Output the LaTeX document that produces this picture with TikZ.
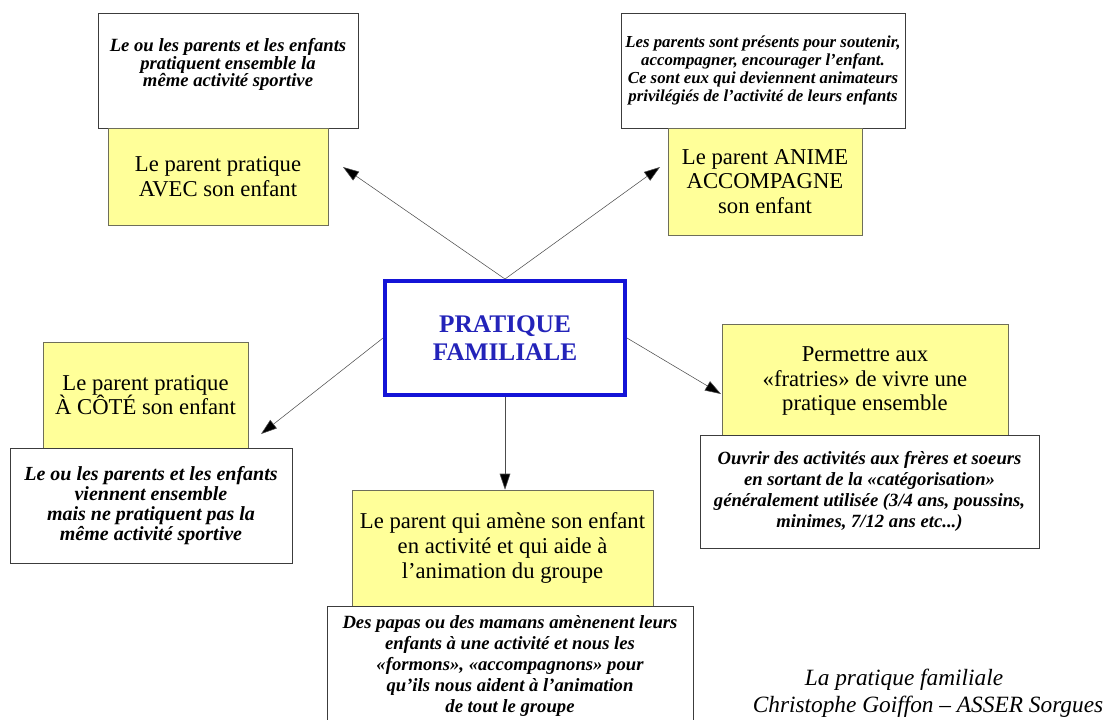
\documentclass[tikz,border=0pt]{standalone}
\usepackage{fontspec}
\setmainfont{Liberation Serif}
\usepackage{tikz}
\usetikzlibrary{arrows.meta,positioning,calc}
\definecolor{PaleYellow}{RGB}{255, 255, 153}
\definecolor{OliveEdge}{RGB}{110, 110, 90}
\definecolor{DarkEdge}{RGB}{60, 60, 60}
\definecolor{FrameBlue}{RGB}{20, 20, 215}
\definecolor{TitleBlue}{RGB}{35, 35, 185}

\begin{document}
\begin{tikzpicture}[x=0.75pt, y=-0.75pt,
  yellowbox/.style={draw=OliveEdge, fill=PaleYellow, align=center, inner sep=2pt,
    font=\fontsize{17}{18.5}\selectfont},
  notebox/.style={draw=DarkEdge, fill=white, align=center, inner sep=2pt},
  notefont/.style 2 args={font=\fontsize{#1}{#2}\selectfont\bfseries\itshape},
  link/.style={draw=black!70, -{Triangle[length=12pt, width=8pt, fill=black]}}]
  \useasboundingbox (0, 0) rectangle (1109, 719);

  % Centre
  \node[draw=FrameBlue, line width=3pt, minimum width=180pt, minimum height=85.5pt,
    align=center, text=TitleBlue, font=\fontsize{19}{20.5}\selectfont\bfseries]
    (centre) at (505, 338) {PRATIQUE\\FAMILIALE};

  % Top left
  \node[notebox, notefont={14}{13}, minimum width=195pt, minimum height=86.25pt,
    text depth=12pt] (noteavec) at (228, 70.5)
    {Le ou les parents et les enfants\\pratiquent ensemble la\\même activité sportive};
  \node[yellowbox, minimum width=165pt, minimum height=72.75pt] (avec) at (218, 176.5)
    {Le parent pratique\\AVEC son enfant};

  % Top right
  \node[notebox, notefont={12.6}{13.5}, minimum width=213pt, minimum height=86.25pt]
    (noteanime) at (763, 70.5)
    {Les parents sont présents pour soutenir,\\accompagner, encourager l'enfant.\\Ce sont eux qui deviennent animateurs\\privilégiés de l'activité de leurs enfants};
  \node[yellowbox, minimum width=145.5pt, minimum height=80.25pt] (anime) at (765, 181.5)
    {Le parent ANIME\\ACCOMPAGNE\\son enfant};

  % Left
  \node[yellowbox, minimum width=153.75pt, minimum height=79.5pt] (cote) at (145.5, 395)
    {Le parent pratique\\À CÔTÉ son enfant};
  \node[notebox, notefont={15}{15}, minimum width=211.5pt, minimum height=86.25pt]
    (notecote) at (151, 505.5)
    {Le ou les parents et les enfants\\viennent ensemble\\mais ne pratiquent pas la\\même activité sportive};

  % Right
  \node[yellowbox, minimum width=214.5pt, minimum height=84.75pt] (fratrie) at (865, 381)
    {Permettre aux\\«fratries» de vivre une\\pratique ensemble};
  \node[notebox, notefont={14}{15.75}, minimum width=254.25pt, minimum height=84.75pt]
    (notefratrie) at (869.5, 491.5)
    {Ouvrir des activités aux frères et soeurs\\en sortant de la «catégorisation»\\généralement utilisée (3/4 ans, poussins,\\minimes, 7/12 ans etc...)};

  % Bottom
  \node[yellowbox, minimum width=225.75pt, minimum height=87pt] (groupe) at (502.5, 548)
    {Le parent qui amène son enfant\\en activité et qui aide à\\l'animation du groupe};
  \node[notebox, notefont={14}{15.75}, minimum width=274.5pt, minimum height=89.25pt]
    (notegroupe) at (510, 665.5)
    {Des papas ou des mamans amènenent leurs\\enfants à une activité et nous les\\«formons», «accompagnons» pour\\qu'ils nous aident à l'animation\\de tout le groupe};

  % Arrows
  \coordinate (tipavec) at (343, 167);
  \coordinate (tipanime) at (660, 167);
  \coordinate (tipcote) at (261, 434);
  \coordinate (tipfratrie) at (721, 394);
  \draw[link] (centre.north) -- (tipavec);
  \draw[link] (centre.north) -- (tipanime);
  \draw[link] (centre.west) -- (tipcote);
  \draw[link] (centre.east) -- (tipfratrie);
  \draw[link] (centre.south) -- (centre.south |- groupe.north);

  % Credit
  \node[font=\fontsize{17.5}{20}\selectfont\itshape] (credittitle) at (904, 680) {La pratique familiale};
  \node[font=\fontsize{17.5}{20}\selectfont\itshape, below=-3pt of credittitle.south, xshift=18pt, anchor=north]
    (creditname) {Christophe Goiffon – ASSER Sorgues};
\end{tikzpicture}
\end{document}
